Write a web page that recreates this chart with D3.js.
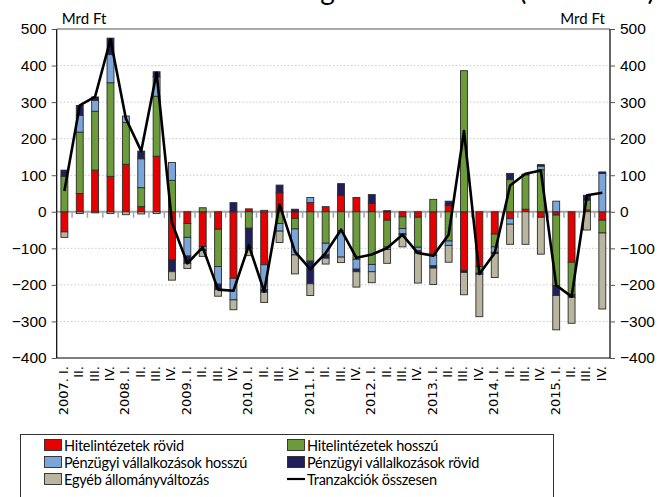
<!DOCTYPE html>
<meta charset="utf-8">
<html>
<head>
	<script src="https://cdn.jsdelivr.net/npm/d3@7/dist/d3.min.js"></script>
	<style>
		body { margin: 0; background: #fff; }
		svg { display: block; }
		.tick-label { font-family: "Liberation Sans", Arial, sans-serif; font-size: 15.5px; fill: #000; }
		.cat-label { font-family: "DejaVu Sans", Verdana, sans-serif; font-size: 13px; fill: #000; }
		.unit { font-family: Lato, "Open Sans", sans-serif; font-size: 15px; fill: #000; }
		.legend text { font-family: Lato, "Open Sans", sans-serif; font-size: 14.5px; letter-spacing: -0.25px; fill: #000; }
		.title { font-family: Lato, "Open Sans", sans-serif; font-size: 28px; fill: #000; }
	</style>
</head>
<body>
	<div id="chart"></div>
	<script>
	// quarters 2007 I. - 2015 IV.
	var years = ["2007", "2008", "2009", "2010", "2011", "2012", "2013", "2014", "2015"];
	var quarterNames = ["I.", "II.", "III.", "IV."];
	var yTicks = [-400, -300, -200, -100, 0, 100, 200, 300, 400, 500];

	var seriesNames = ["Hitelintézetek rövid", "Hitelintézetek hosszú", "Pénzügyi vállalkozások hosszú",
		"Pénzügyi vállalkozások rövid", "Egyéb állományváltozás"];
	var lineName = "Tranzakciók összesen";
	var seriesColors = ["#e60000", "#6b9b3a", "#7aa6da", "#1f1f5c", "#bab59f"];

	// Mrd Ft, one value per quarter
	var hitelRovid   = [-55, 50, 114, 97, 130, 14, 152, -132, -32, -95, -48, -182,
		8, -145, 52, -18, 25, 14, 45, 39, 23, -23, -14, -15,
		-120, 17, -161, -150, -61, -19, 7, -15, -9, -138, 5, -23];
	var hitelHosszu  = [97, 168, 161, 256, 114, 52, 164, 86, -38, 11, -102, 0,
		-45, 4, -32, -29, -135, -86, -52, -130, -144, -73, -32, -82,
		34, -80, 386, -18, -35, 88, 94, 115, -193, -89, 27, -35];
	var pvHosszu     = [0, 46, 30, 77, 18, 79, 53, 49, -51, -9, -48, -59,
		0, -68, -21, -71, 14, -32, -72, -27, -20, -7, -14, -10,
		-28, -12, 0, 0, -15, -15, 0, 10, 29, 0, 0, 105];
	var pvRovid      = [17, 27, 9, 45, 0, 21, 14, -32, -20, -2, -15, 25,
		-55, -7, 21, 7, -62, -9, 32, -7, 24, 3, -3, -6,
		-6, 12, -5, -3, -3, 17, 2, 4, -27, -7, 13, 4];
	var egyeb        = [-15, -5, -3, -5, -8, -6, -5, -23, -14, -16, -18, -27,
		-20, -28, -31, -52, -32, -16, -15, -42, -30, -38, -33, -82,
		-45, -46, -61, -116, -66, -55, -89, -101, -94, -71, -50, -208];
	var tranzakciok  = [57, 291, 315, 472, 255, 166, 380, -30, -141, -97, -213, -216,
		-92, -218, 20, -109, -157, -113, -49, -126, -117, -99, -63, -113,
		-120, -63, 221, -170, -113, 72, 104, 113, -201, -232, 45, 52];

	var quarters = [];
	years.forEach(function(y) {
		quarterNames.forEach(function(q, j) {
			quarters.push({ key: y + "-" + (j + 1), label: j === 0 ? y + ". " + q : q });
		});
	});

	var allSeries = [hitelRovid, hitelHosszu, pvHosszu, pvRovid, egyeb];
	var rows = quarters.map(function(q, i) {
		var r = { key: q.key };
		seriesNames.forEach(function(s, k) { r[s] = allSeries[k][i]; });
		return r;
	});

	var width = 660, height = 497;
	var plot = { left: 56.7, right: 610, top: 29, bottom: 358 };

	var svg = d3.select("#chart").append("svg")
		.attr("width", width)
		.attr("height", height);

	var x = d3.scaleBand()
		.domain(quarters.map(function(q) { return q.key; }))
		.range([plot.left, plot.right])
		.paddingInner(0.55)
		.paddingOuter(0.275);

	var y = d3.scaleLinear()
		.domain([-400, 500])
		.range([plot.bottom, plot.top]);

	// title, cut by the top edge as in the source picture
	svg.append("text")
		.attr("class", "title")
		.attr("x", 655)
		.attr("y", 0)
		.attr("text-anchor", "end")
		.text("Bankszektor külső adósságának változása (milliárd Ft)");

	// gridlines
	svg.append("g")
		.selectAll("line")
		.data(yTicks.filter(function(t) { return t !== 0 && t !== -400 && t !== 500; }))
		.enter().append("line")
			.attr("x1", plot.left).attr("x2", plot.right)
			.attr("y1", function(d) { return y(d); })
			.attr("y2", function(d) { return y(d); })
			.attr("stroke", "#c8c8c8")
			.attr("stroke-width", 1)
			.attr("stroke-dasharray", "1.5,2");

	// top and bottom border
	svg.append("line")
		.attr("x1", plot.left).attr("x2", plot.right)
		.attr("y1", y(500)).attr("y2", y(500))
		.attr("stroke", "#555").attr("stroke-width", 1);
	svg.append("line")
		.attr("x1", plot.left).attr("x2", plot.right)
		.attr("y1", y(-400)).attr("y2", y(-400))
		.attr("stroke", "#000").attr("stroke-width", 1.2);

	// zero line with ticks between categories
	var step = x.step();
	svg.append("g")
		.selectAll("line")
		.data(d3.range(1, quarters.length))
		.enter().append("line")
			.attr("x1", function(i) { return plot.left + i * step; })
			.attr("x2", function(i) { return plot.left + i * step; })
			.attr("y1", y(0)).attr("y2", y(0) + 6)
			.attr("stroke", "#a6a6a6").attr("stroke-width", 1.5);
	svg.append("line")
		.attr("x1", plot.left).attr("x2", plot.right)
		.attr("y1", y(0)).attr("y2", y(0))
		.attr("stroke", "#a6a6a6").attr("stroke-width", 2);

	// stacked bars
	var stack = d3.stack()
		.keys(seriesNames)
		.offset(d3.stackOffsetDiverging);
	var layers = stack(rows);

	svg.append("g")
		.selectAll("g")
		.data(layers)
		.enter().append("g")
			.attr("fill", function(d, k) { return seriesColors[k]; })
		.selectAll("rect")
		.data(function(d) { return d; })
		.enter().append("rect")
			.filter(function(d) { return d[1] !== d[0]; })
			.attr("x", function(d) { return x(d.data.key); })
			.attr("width", x.bandwidth())
			.attr("y", function(d) { return y(Math.max(d[0], d[1])); })
			.attr("height", function(d) { return Math.abs(y(d[0]) - y(d[1])); })
			.attr("stroke", "#2b2b2b")
			.attr("stroke-width", 0.9);

	// line
	var line = d3.line()
		.x(function(d, i) { return x(quarters[i].key) + x.bandwidth() / 2; })
		.y(function(d) { return y(d); });

	svg.append("path")
		.datum(tranzakciok)
		.attr("d", line)
		.attr("fill", "none")
		.attr("stroke", "#000")
		.attr("stroke-width", 2.6)
		.attr("stroke-linejoin", "round");

	// y axes
	svg.append("g")
		.attr("transform", "translate(" + plot.left + ",0)")
		.call(d3.axisLeft(y).tickValues(yTicks).tickSize(5).tickPadding(5))
		.call(function(g) {
			g.select(".domain").attr("stroke", "#000").attr("stroke-width", 1.2);
			g.selectAll(".tick line").attr("stroke", "#555");
			g.selectAll(".tick text").attr("class", "tick-label").attr("font-family", null).attr("font-size", null);
		});
	svg.append("g")
		.attr("transform", "translate(" + plot.right + ",0)")
		.call(d3.axisRight(y).tickValues(yTicks).tickSize(5).tickPadding(5))
		.call(function(g) {
			g.select(".domain").attr("stroke", "#000").attr("stroke-width", 1.2);
			g.selectAll(".tick line").attr("stroke", "#555");
			g.selectAll(".tick text").attr("class", "tick-label").attr("font-family", null).attr("font-size", null);
		});
	svg.selectAll(".domain").attr("d", function() {
		return "M0," + y(500) + "V" + y(-400);
	});

	svg.append("text").attr("class", "unit")
		.attr("x", plot.left + 5).attr("y", y(500) - 5)
		.text("Mrd Ft");
	svg.append("text").attr("class", "unit")
		.attr("x", plot.right - 5).attr("y", y(500) - 5)
		.attr("text-anchor", "end")
		.text("Mrd Ft");

	// category labels
	svg.append("g")
		.selectAll("text")
		.data(quarters)
		.enter().append("text")
			.attr("class", "cat-label")
			.attr("transform", function(d) {
				return "translate(" + (x(d.key) + x.bandwidth() / 2 + 3.5) + "," + (plot.bottom + 8) + ") rotate(-90)";
			})
			.attr("text-anchor", "end")
			.text(function(d) { return d.label; });

	// legend
	var legend = svg.append("g").attr("class", "legend");
	legend.append("rect")
		.attr("x", 20.5).attr("y", 434.5)
		.attr("width", 533).attr("height", 80)
		.attr("fill", "#fff").attr("stroke", "#333");

	var legendItems = seriesNames.concat([lineName]);
	var li = legend.selectAll(".item")
		.data(legendItems)
		.enter().append("g")
			.attr("class", "item")
			.attr("transform", function(d, i) {
				return "translate(" + (i % 2 === 0 ? 44 : 287) + "," + (445 + Math.floor(i / 2) * 17) + ")";
			});
	li.filter(function(d, i) { return i < seriesNames.length; })
		.append("rect")
			.attr("x", 0.5).attr("y", -5.5)
			.attr("width", 17).attr("height", 11)
			.attr("fill", function(d, i) { return seriesColors[i]; })
			.attr("stroke", "#2b2b2b").attr("stroke-width", 0.9);
	li.filter(function(d, i) { return i === seriesNames.length; })
		.append("line")
			.attr("x1", 0).attr("x2", 18).attr("y1", 0).attr("y2", 0)
			.attr("stroke", "#000").attr("stroke-width", 2.2);
	li.append("text")
		.attr("x", 20).attr("y", 5.5)
		.text(function(d) { return d; });
	</script>
</body>
</html>
